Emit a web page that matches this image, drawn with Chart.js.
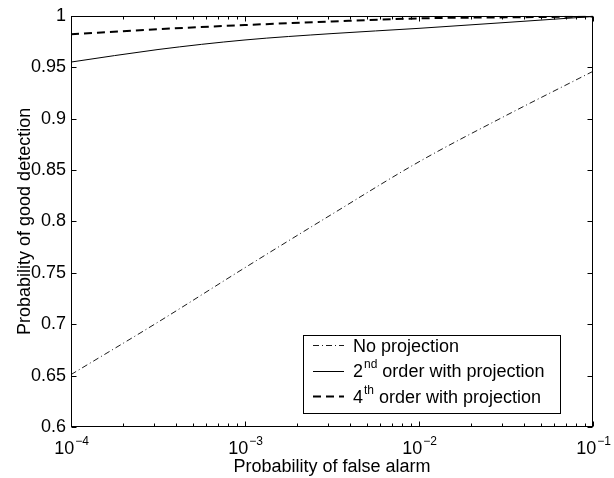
<!DOCTYPE html>
<html><head><meta charset="utf-8">
<script src="https://cdn.jsdelivr.net/npm/chart.js@4.4.1/dist/chart.umd.min.js"></script>
<style>html,body{margin:0;padding:0;background:#fff;} #wrap{width:614px;height:478px;}</style>
</head><body><div id="wrap"><canvas id="c" width="614" height="478"></canvas></div>
<script>
// ---- data ----
const falseAlarm   = [1e-4, 3.162e-4, 1e-3, 3.162e-3, 1e-2, 3.162e-2, 1e-1];
const noProjection = [0.651, 0.702, 0.755, 0.807, 0.858, 0.903, 0.946];
const order2nd     = [0.955, 0.9672, 0.9765, 0.9827, 0.9878, 0.9935, 0.9993];
const order4th     = [0.982, 0.987, 0.991, 0.9945, 0.9975, 0.9985, 0.9993];
const xTickExponents = [-4, -3, -2, -1];
const legendLabels = [["No projection", "", ""], ["2", "nd", " order with projection"], ["4", "th", " order with projection"]];
const xTitle = "Probability of false alarm";
const yTitle = "Probability of good detection";

const FONT = '"Liberation Sans", Arial, Helvetica, sans-serif';
const styles = [
  {width: 0.9, dash: [6, 3, 1, 3]},
  {width: 1, dash: []},
  {width: 2, dash: [8, 5]}
];
const series = [noProjection, order2nd, order4th];

const decorPlugin = {
  id: 'decor',
  afterDraw(chart) {
    const ctx = chart.ctx, ca = chart.chartArea, xs = chart.scales.x, ys = chart.scales.y;
    ctx.save();
    ctx.strokeStyle = '#000';
    ctx.lineWidth = 1;
    const L = Math.round(ca.left) + 0.5, R = Math.round(ca.right) - 0.5;
    const T = Math.round(ca.top) + 0.5, B = Math.round(ca.bottom) - 0.5;
    ctx.strokeRect(L, T, R - L, B - T);
    ctx.beginPath();
    ys.ticks.forEach(t => {
      const y = Math.round(ys.getPixelForValue(t.value)) + 0.5;
      ctx.moveTo(L, y); ctx.lineTo(L + 5, y);
      ctx.moveTo(R, y); ctx.lineTo(R - 5, y);
    });
    xTickExponents.forEach((e, i) => {
      const x = Math.round(xs.getPixelForValue(Math.pow(10, e))) + 0.5;
      ctx.moveTo(x, B); ctx.lineTo(x, B - 5);
      ctx.moveTo(x, T); ctx.lineTo(x, T + 5);
      if (i < xTickExponents.length - 1) {
        for (let m = 2; m <= 9; m++) {
          const xm = Math.round(xs.getPixelForValue(m * Math.pow(10, e))) + 0.5;
          ctx.moveTo(xm, B); ctx.lineTo(xm, B - 3);
          ctx.moveTo(xm, T); ctx.lineTo(xm, T + 3);
        }
      }
    });
    ctx.stroke();

    ctx.fillStyle = '#000';
    ctx.textBaseline = 'alphabetic';
    ctx.textAlign = 'left';
    xTickExponents.forEach(e => {
      const x = xs.getPixelForValue(Math.pow(10, e));
      const base = '10', sup = '\u2212' + Math.abs(e);
      ctx.font = '18px ' + FONT;
      const wb = ctx.measureText(base).width;
      ctx.font = '12px ' + FONT;
      const ws = ctx.measureText(sup).width;
      const x0 = x - (wb + ws) / 2;
      ctx.font = '18px ' + FONT;
      ctx.fillText(base, x0, 454);
      ctx.font = '12px ' + FONT;
      ctx.fillText(sup, x0 + wb + 1, 445);
    });

    const lx = 303.5, ly = 335.5, lw = 257, lh = 78;
    ctx.fillStyle = '#fff';
    ctx.fillRect(lx, ly, lw, lh);
    ctx.strokeStyle = '#000';
    ctx.lineWidth = 1;
    ctx.strokeRect(lx, ly, lw, lh);
    const rows = [345, 370.5, 396];
    legendLabels.forEach((lab, i) => {
      const y = rows[i];
      ctx.save();
      ctx.lineWidth = styles[i].width;
      ctx.setLineDash(styles[i].dash);
      ctx.beginPath();
      ctx.moveTo(313, Math.round(y) + 0.5);
      ctx.lineTo(344, Math.round(y) + 0.5);
      ctx.stroke();
      ctx.restore();
      ctx.fillStyle = '#000';
      let x = 353;
      const by = y + 6.5;
      ctx.font = '18px ' + FONT;
      ctx.fillText(lab[0], x, by);
      x += ctx.measureText(lab[0]).width;
      if (lab[1]) {
        ctx.font = '12px ' + FONT;
        ctx.fillText(lab[1], x + 1, by - 9);
        x += ctx.measureText(lab[1]).width + 1;
      }
      if (lab[2]) {
        ctx.font = '18px ' + FONT;
        ctx.fillText(lab[2], x, by);
      }
    });
    ctx.restore();
  }
};

new Chart(document.getElementById('c'), {
  type: 'line',
  data: {
    datasets: series.map((s, i) => ({
      label: legendLabels[i].join(''),
      data: falseAlarm.map((x, j) => ({x: x, y: s[j]})),
      borderColor: '#000',
      borderWidth: styles[i].width,
      borderDash: styles[i].dash,
      pointRadius: 0,
      fill: false,
      cubicInterpolationMode: 'monotone'
    }))
  },
  options: {
    responsive: false,
    animation: false,
    layout: {padding: {left: 0, top: 15, right: 21, bottom: 0}},
    plugins: {legend: {display: false}, tooltip: {enabled: false}},
    scales: {
      x: {
        type: 'logarithmic', min: 1e-4, max: 1e-1,
        grid: {display: false, drawTicks: false},
        border: {display: false},
        ticks: {display: false},
        title: {display: true, text: xTitle, color: '#000', font: {family: FONT, size: 18}, padding: {top: 0, bottom: 0}},
        afterFit(s) { s.height = 51; }
      },
      y: {
        type: 'linear', min: 0.6, max: 1,
        grid: {display: false, drawTicks: false},
        border: {display: false},
        ticks: {stepSize: 0.05, color: '#000', padding: 5, font: {family: FONT, size: 18},
                callback: v => String(+v.toFixed(2))},
        title: {display: true, text: yTitle, color: '#000', font: {family: FONT, size: 18}, padding: {top: 14, bottom: 0}},
        afterFit(s) { s.width = 71; }
      }
    }
  },
  plugins: [decorPlugin]
});
</script>
</body></html>
